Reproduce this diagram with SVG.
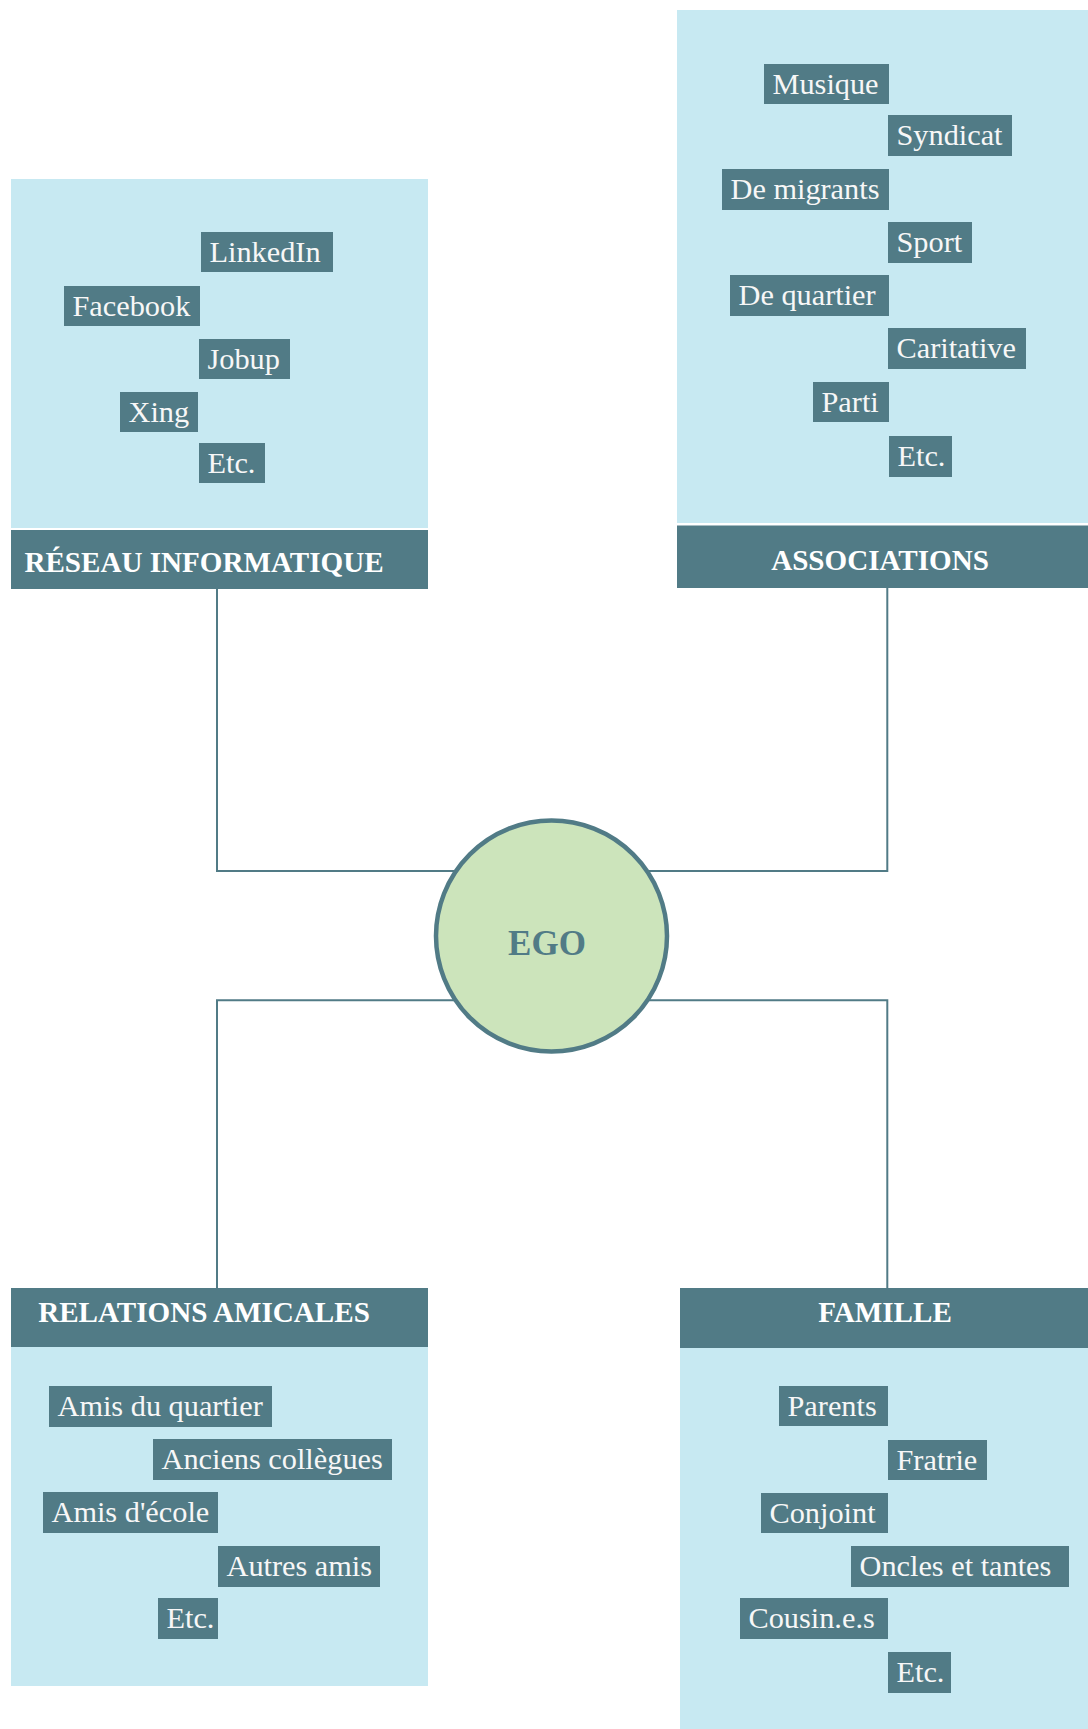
<svg xmlns="http://www.w3.org/2000/svg" width="1088" height="1729" viewBox="0 0 1088 1729">
<style>
.panel{fill:#c7e9f2}
.head{fill:#517b86}
.item{fill:#517b86}
.ht{font-family:"Liberation Serif",serif;font-weight:bold;font-size:29.1px;fill:#ffffff}
.it{font-family:"Liberation Serif",serif;font-size:30.3px;fill:#f7f7f7}
.conn{fill:none;stroke:#517b86;stroke-width:2}
</style>
<rect width="1088" height="1729" fill="#ffffff"/>
<g id="connectors">
<path class="conn" d="M217,589 V871 H456"/>
<path class="conn" d="M887.3,588 V871 H647"/>
<path class="conn" d="M217,1288 V1000.3 H455.4"/>
<path class="conn" d="M887.3,1288 V1000.3 H647.6"/>
</g>
<g id="ego">
<circle cx="551.5" cy="936" r="115.5" fill="#cce4bb" stroke="#517b86" stroke-width="4.5"/>
<text x="547" y="955" text-anchor="middle" font-family="Liberation Serif,serif" font-weight="bold" font-size="35" fill="#517b86">EGO</text>
</g>
<g id="reseau">
<rect class="panel" x="11" y="179" width="417" height="349"/>
<rect class="head" x="11" y="530" width="417" height="59"/>
<text class="ht" x="204" y="572" text-anchor="middle">RÉSEAU INFORMATIQUE</text>
<rect class="item" x="201" y="232" width="132" height="40"/><text class="it" x="209.5" y="261.5">LinkedIn</text>
<rect class="item" x="64" y="286" width="136" height="40"/><text class="it" x="72.5" y="315.5">Facebook</text>
<rect class="item" x="199" y="339" width="91" height="40"/><text class="it" x="207.5" y="368.5">Jobup</text>
<rect class="item" x="120" y="392" width="78" height="40"/><text class="it" x="128.5" y="421.5">Xing</text>
<rect class="item" x="199" y="443" width="66" height="40"/><text class="it" x="207.5" y="472.5">Etc.</text>
</g>
<g id="associations">
<rect class="panel" x="677" y="10" width="411" height="513"/>
<rect class="head" x="677" y="525.5" width="411" height="62.5"/>
<text class="ht" x="880" y="570" text-anchor="middle">ASSOCIATIONS</text>
<rect class="item" x="764" y="64" width="125" height="40"/><text class="it" x="772.5" y="93.5">Musique</text>
<rect class="item" x="888" y="115" width="124" height="41"/><text class="it" x="896.5" y="144.5">Syndicat</text>
<rect class="item" x="722" y="169" width="167" height="41"/><text class="it" x="730.5" y="198.5">De migrants</text>
<rect class="item" x="888" y="222" width="84" height="41"/><text class="it" x="896.5" y="251.5">Sport</text>
<rect class="item" x="730" y="275" width="159" height="41"/><text class="it" x="738.5" y="304.5">De quartier</text>
<rect class="item" x="888" y="328" width="138" height="41"/><text class="it" x="896.5" y="357.5">Caritative</text>
<rect class="item" x="813" y="382" width="76" height="40"/><text class="it" x="821.5" y="411.5">Parti</text>
<rect class="item" x="889" y="436" width="63" height="41"/><text class="it" x="897.5" y="465.5">Etc.</text>
</g>
<g id="relations">
<rect class="panel" x="11" y="1347" width="417" height="339"/>
<rect class="head" x="11" y="1288" width="417" height="59"/>
<text class="ht" x="204" y="1322" text-anchor="middle">RELATIONS AMICALES</text>
<rect class="item" x="49" y="1386" width="223" height="41"/><text class="it" x="57.5" y="1415.5">Amis du quartier</text>
<rect class="item" x="153" y="1439" width="239" height="41"/><text class="it" x="161.5" y="1468.5">Anciens collègues</text>
<rect class="item" x="43" y="1492" width="175" height="41"/><text class="it" x="51.5" y="1521.5">Amis d'école</text>
<rect class="item" x="218" y="1546" width="162" height="41"/><text class="it" x="226.5" y="1575.5">Autres amis</text>
<rect class="item" x="158" y="1598" width="60" height="41"/><text class="it" x="166.5" y="1627.5">Etc.</text>
</g>
<g id="famille">
<rect class="panel" x="680" y="1348" width="408" height="381"/>
<rect class="head" x="680" y="1288" width="408" height="60"/>
<text class="ht" x="885" y="1322" text-anchor="middle">FAMILLE</text>
<rect class="item" x="779" y="1386" width="109" height="40"/><text class="it" x="787.5" y="1415.5">Parents</text>
<rect class="item" x="888" y="1440" width="99" height="40"/><text class="it" x="896.5" y="1469.5">Fratrie</text>
<rect class="item" x="761" y="1493" width="127" height="40"/><text class="it" x="769.5" y="1522.5">Conjoint</text>
<rect class="item" x="851" y="1546" width="218" height="41"/><text class="it" x="859.5" y="1575.5">Oncles et tantes</text>
<rect class="item" x="740" y="1598" width="148" height="41"/><text class="it" x="748.5" y="1627.5">Cousin.e.s</text>
<rect class="item" x="888" y="1652" width="63" height="41"/><text class="it" x="896.5" y="1681.5">Etc.</text>
</g>
</svg>
